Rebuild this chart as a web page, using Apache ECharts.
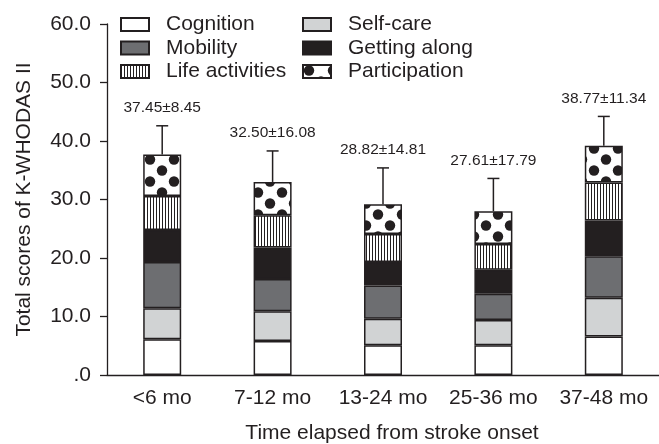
<!DOCTYPE html>
<html>
<head>
<meta charset="utf-8">
<script src="https://cdn.jsdelivr.net/npm/echarts@6/dist/echarts.min.js"></script>
<style>
html,body{margin:0;padding:0;background:#fff;}
#chart{width:659px;height:444px;}
</style>
</head>
<body>
<div id="chart"></div>
<script>
// ---- data ----
var categories = ['<6 mo', '7-12 mo', '13-24 mo', '25-36 mo', '37-48 mo'];
var cognition = [6.1, 5.8, 5.1, 5.1, 6.6];
var selfCare = [5.3, 5.1, 4.5, 4.3, 6.6];
var mobility = [7.9, 5.5, 5.7, 4.5, 7.1];
var gettingAlong = [5.5, 5.4, 4.0, 4.1, 6.1];
var lifeActivities = [5.8, 5.5, 4.8, 4.4, 6.5];
var participation = [7.1, 5.7, 5.1, 5.6, 6.3];
var errorTop = [42.6, 38.3, 35.4, 33.6, 44.2];
var totalLabels = ['37.45\u00b18.45', '32.50\u00b116.08', '28.82\u00b114.81', '27.61\u00b117.79', '38.77\u00b111.34'];
var yTicks = [0, 10, 20, 30, 40, 50, 60];

// ---- patterns ----
function stripePattern() {
  var c = document.createElement('canvas');
  c.width = 3; c.height = 4;
  var ctx = c.getContext('2d');
  ctx.fillStyle = '#fff'; ctx.fillRect(0, 0, 3, 4);
  ctx.fillStyle = '#231f20'; ctx.fillRect(0, 0, 1, 4);
  return c;
}
function dotPattern() {
  var w = 24, h = 22, r = 5.2;
  var c = document.createElement('canvas');
  c.width = w; c.height = h;
  var ctx = c.getContext('2d');
  ctx.fillStyle = '#fff'; ctx.fillRect(0, 0, w, h);
  ctx.fillStyle = '#231f20';
  var pts = [[6, 5.5], [18, 16.5]];
  pts.forEach(function (p) {
    for (var dx = -1; dx <= 1; dx++) for (var dy = -1; dy <= 1; dy++) {
      ctx.beginPath();
      ctx.arc(p[0] + dx * w, p[1] + dy * h, r, 0, Math.PI * 2);
      ctx.fill();
    }
  });
  return c;
}

var INK = '#231f20';
var FONT = '"Liberation Sans", Arial, Helvetica, sans-serif';
var FS = 21;

var segs = [
  { name: 'Cognition', data: cognition, color: '#ffffff' },
  { name: 'Self-care', data: selfCare, color: '#d1d3d4' },
  { name: 'Mobility', data: mobility, color: '#6d6e71' },
  { name: 'Getting along', data: gettingAlong, color: INK },
  { name: 'Life activities', data: lifeActivities, color: { image: stripePattern(), repeat: 'repeat' } },
  { name: 'Participation', data: participation, color: { image: dotPattern(), repeat: 'repeat' } }
];

var totals = categories.map(function (c, i) {
  return segs.reduce(function (s, sg) { return s + sg.data[i]; }, 0);
});

var series = segs.map(function (sg) {
  return {
    name: sg.name,
    type: 'bar',
    stack: 'total',
    barWidth: 38,
    data: sg.data,
    itemStyle: { color: sg.color, borderColor: INK, borderWidth: 1.5 },
    emphasis: { disabled: true },
    animation: false
  };
});

series.push({
  type: 'custom',
  name: 'err',
  z: 5,
  animation: false,
  data: categories.map(function (c, i) { return [i, totals[i], errorTop[i]]; }),
  encode: { x: 0, y: [1, 2] },
  renderItem: function (params, api) {
    var i = api.value(0);
    var p0 = api.coord([i, api.value(1)]);
    var p1 = api.coord([i, api.value(2)]);
    return {
      type: 'group',
      children: [
        { type: 'line', shape: { x1: p0[0], y1: p0[1], x2: p1[0], y2: p1[1] }, style: { stroke: INK, lineWidth: 1.5 } },
        { type: 'line', shape: { x1: p1[0] - 6, y1: p1[1], x2: p1[0] + 6, y2: p1[1] }, style: { stroke: INK, lineWidth: 1.5 } },
        { type: 'text', x: p1[0], y: p1[1] - 18, style: { text: totalLabels[params.dataIndex], fill: INK, font: '15.5px ' + FONT, align: 'center', verticalAlign: 'middle' } }
      ]
    };
  }
});

var legendBase = {
  orient: 'vertical',
  itemWidth: 28,
  itemHeight: 13,
  itemGap: 2.5,
  icon: 'rect',
  selectedMode: false,
  textStyle: { fontSize: FS, fontFamily: FONT, color: INK, padding: [0, 0, 0, 12] }
};

var chart = echarts.init(document.getElementById('chart'), null, { renderer: 'canvas' });
chart.setOption({
  backgroundColor: '#fff',
  animation: false,
  textStyle: { fontFamily: FONT },
  legend: [
    Object.assign({}, legendBase, { left: 115, top: 9, data: ['Cognition', 'Mobility', 'Life activities'] }),
    Object.assign({}, legendBase, { left: 297, top: 9, data: ['Self-care', 'Getting along', 'Participation'] })
  ],
  grid: { left: 107, right: -9, top: 24, bottom: 69, containLabel: false },
  xAxis: {
    type: 'category',
    data: categories,
    axisLine: { lineStyle: { color: INK, width: 1.3 } },
    axisTick: { length: 7, lineStyle: { color: INK, width: 1.3 } },
    axisLabel: { interval: 0, hideOverlap: false, fontSize: FS, color: INK, fontFamily: FONT, margin: 13 }
  },
  yAxis: {
    type: 'value',
    min: yTicks[0],
    max: yTicks[yTicks.length - 1],
    interval: 10,
    name: 'Total scores of K-WHODAS II',
    nameLocation: 'middle',
    nameGap: 72,
    nameTextStyle: { fontSize: FS, color: INK, fontFamily: FONT },
    splitLine: { show: false },
    axisLine: { show: true, lineStyle: { color: INK, width: 1.3 } },
    axisTick: { show: true, length: 7, lineStyle: { color: INK, width: 1.3 } },
    axisLabel: {
      fontSize: FS, color: INK, fontFamily: FONT, margin: 16,
      formatter: function (v) { return v === 0 ? '.0' : v.toFixed(1); }
    }
  },
  graphic: [{
    type: 'text',
    x: 392,
    y: 433,
    style: { text: 'Time elapsed from stroke onset', font: FS + 'px ' + FONT, fill: INK, align: 'center', verticalAlign: 'middle' },
    silent: true
  }],
  series: series
});
</script>
</body>
</html>
